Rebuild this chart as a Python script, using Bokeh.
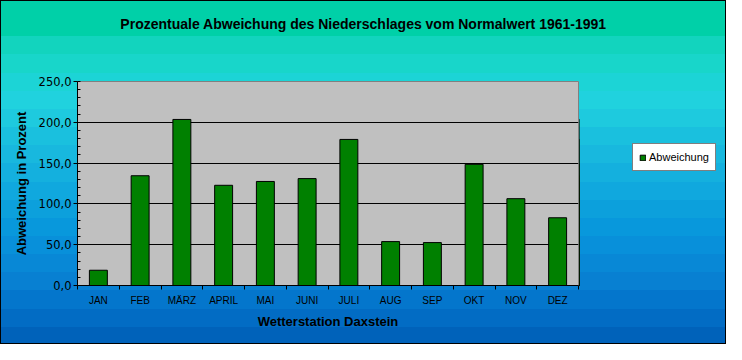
from bokeh.plotting import figure
from bokeh.models import Range1d, FixedTicker, Legend, LegendItem, Title
from bokeh.layouts import row, column
from bokeh.embed import file_html
from bokeh.resources import INLINE

# ---- data ----
months = ["JAN", "FEB", "MÄRZ", "APRIL", "MAI", "JUNI", "JULI", "AUG", "SEP", "OKT", "NOV", "DEZ"]
abweichung = [18.7, 134.5, 203.5, 122.8, 127.5, 131.0, 179.0, 53.8, 52.6, 148.5, 106.4, 83.0]
y_ticks = [0, 50, 100, 150, 200, 250]
y_tick_labels = ["0,0", "50,0", "100,0", "150,0", "200,0", "250,0"]
y_minor = list(range(0, 251, 10))
grid_ticks = [50, 100, 150, 200]

title_text = "Prozentuale Abweichung des Niederschlages vom Normalwert 1961-1991"
x_title = "Wetterstation Daxstein"
y_title = "Abweichung in Prozent"
series_name = "Abweichung"

W, H = 726, 344
TOP_H = 50
MAIN_W = 579
FONT = "Liberation Sans"

x_centers = [i + 0.5 for i in range(len(months))]
x_bounds = list(range(len(months) + 1))

# background bands (edges in reference pixels, colors)
band_edges = [0, 38, 57, 76, 95, 114, 133, 152, 171, 190, 209, 228, 247, 266, 285, 304, 323, 342, 360]
band_colors = ["#00D0A8", "#12D4BE", "#18D6CA", "#1CD4D6", "#20D2DE", "#1ECADE", "#1AC0DE", "#18B8DE",
               "#14B0DE", "#10A8DE", "#0CA0DC", "#0898DC", "#0890DA", "#0888D6", "#0880D2", "#0476CC",
               "#026CC4", "#0062BA"]
stops = []
for i, c in enumerate(band_colors):
    a = band_edges[i] / 360 * 100
    b = band_edges[i + 1] / 360 * 100
    stops.append(f"{c} {a:.2f}%")
    stops.append(f"{c} {b:.2f}%")
gradient = "linear-gradient(to bottom, " + ", ".join(stops) + ")"

# ---- title strip ----
t = figure(width=W, height=TOP_H, output_backend="svg", toolbar_location=None, title=None,
           x_axis_type=None, y_axis_type=None,
           min_border_left=0, min_border_right=0, min_border_top=0, min_border_bottom=0)
t.border_fill_alpha = 0
t.background_fill_alpha = 0
t.outline_line_color = None
t.grid.visible = False
main_title = Title(text=title_text, align="center", standoff=26,
                   text_font=FONT, text_font_size="14px", text_font_style="bold",
                   text_color="#000000")
t.add_layout(main_title, "above")

# ---- main plot ----
p = figure(width=MAIN_W, height=H - TOP_H, output_backend="svg", toolbar_location=None, title=None,
           x_range=Range1d(0, 12), y_range=Range1d(0, 250),
           min_border_left=77, min_border_right=1, min_border_top=81 - TOP_H, min_border_bottom=59)
p.border_fill_alpha = 0
p.background_fill_color = "#C0C0C0"
p.outline_line_color = "#808080"
p.outline_line_width = 1

bars = p.vbar(x=x_centers, top=abweichung, width=0.43, bottom=0,
              fill_color="#008000", line_color="#000000", line_width=1)

# x axis
xa = p.xaxis[0]
xa.ticker = FixedTicker(ticks=x_centers, minor_ticks=x_bounds)
xa.major_label_overrides = {x: m for x, m in zip(x_centers, months)}
xa.major_tick_out = 0
xa.major_tick_in = 0
xa.minor_tick_out = 4
xa.minor_tick_in = 0
xa.minor_tick_line_color = "#000000"
xa.axis_line_color = "#000000"
xa.major_label_text_font = FONT
xa.major_label_text_font_size = "10px"
xa.major_label_text_color = "#000000"
xa.major_label_standoff = 5
xa.axis_label = x_title
xa.axis_label_text_font = FONT
xa.axis_label_text_font_size = "13px"
xa.axis_label_text_font_style = "bold"
xa.axis_label_text_color = "#000000"
xa.axis_label_standoff = 5

# y axis
ya = p.yaxis[0]
ya.ticker = FixedTicker(ticks=y_ticks, minor_ticks=y_minor)
ya.major_label_overrides = {tk: lb for tk, lb in zip(y_ticks, y_tick_labels)}
ya.major_tick_out = 4
ya.major_tick_in = 0
ya.minor_tick_in = 3
ya.minor_tick_out = 0
ya.major_tick_line_color = "#000000"
ya.minor_tick_line_color = "#000000"
ya.axis_line_color = "#000000"
ya.major_label_text_font = "DejaVu Sans"
ya.major_label_text_font_size = "11.5px"
ya.major_label_text_color = "#000000"
ya.major_label_standoff = 2
ya.axis_label = y_title
ya.axis_label_text_font = FONT
ya.axis_label_text_font_size = "13px"
ya.axis_label_text_font_style = "bold"
ya.axis_label_text_color = "#000000"
ya.axis_label_standoff = 7

p.xgrid.visible = False
p.ygrid.ticker = FixedTicker(ticks=grid_ticks)
p.ygrid.grid_line_color = "#000000"
p.ygrid.grid_line_width = 1

# ---- legend panel (second figure, right of the plot area) ----
q = figure(width=W - MAIN_W, height=H - TOP_H, output_backend="svg", toolbar_location=None,
           x_axis_type=None, y_axis_type=None, title=None,
           x_range=Range1d(100, 101), y_range=Range1d(0, 250),
           min_border_left=0, min_border_right=0, min_border_top=0, min_border_bottom=0)
q.border_fill_alpha = 0
q.background_fill_alpha = 0
q.outline_line_color = None
q.grid.visible = False
legend_bars = q.vbar(x=x_centers, top=abweichung, width=0.43, bottom=0,
                     fill_color="#008000", line_color="#000000", line_width=1)

legend = Legend(items=[LegendItem(label=series_name, renderers=[legend_bars])],
                location=(53, 114))
legend.background_fill_color = "#FFFFFF"
legend.background_fill_alpha = 1
legend.border_line_color = "#000000"
legend.border_line_width = 1
legend.label_text_font = FONT
legend.label_text_font_size = "11px"
legend.label_text_color = "#000000"
legend.glyph_width = 7
legend.glyph_height = 7
legend.label_height = 14
legend.label_standoff = 3
legend.padding = 6
legend.margin = 0
legend.spacing = 0
q.add_layout(legend)

layout = column(t, row(p, q, spacing=0), spacing=0)
layout.styles = {"background": gradient, "box-shadow": "inset 0 0 0 1px #000000"}

open("out.html", "w").write(file_html(layout, INLINE))
